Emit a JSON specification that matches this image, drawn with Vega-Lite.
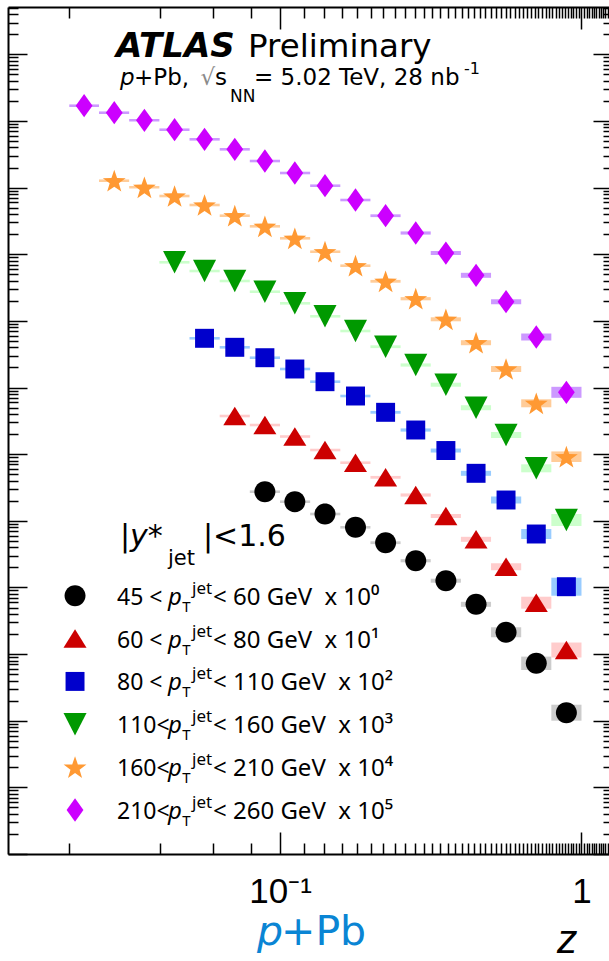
{
  "$schema": "https://vega.github.io/schema/vega-lite/v6.json",
  "width": 601,
  "height": 847,
  "autosize": "none",
  "padding": {"left": 8, "top": 7, "right": 0, "bottom": 107},
  "background": "white",
  "config": {"view": {"stroke": null}, "axis": {"grid": false}},
  "datasets": {
    "bins": [
      {"z": 0.0224, "z0": 0.02, "z1": 0.0251},
      {"z": 0.0282, "z0": 0.0251, "z1": 0.0316},
      {"z": 0.0355, "z0": 0.0316, "z1": 0.0398},
      {"z": 0.0447, "z0": 0.0398, "z1": 0.0501},
      {"z": 0.0562, "z0": 0.0501, "z1": 0.0631},
      {"z": 0.0708, "z0": 0.0631, "z1": 0.0794},
      {"z": 0.0891, "z0": 0.0794, "z1": 0.1},
      {"z": 0.112, "z0": 0.1, "z1": 0.1259},
      {"z": 0.141, "z0": 0.1259, "z1": 0.1585},
      {"z": 0.178, "z0": 0.1585, "z1": 0.1995},
      {"z": 0.224, "z0": 0.1995, "z1": 0.2512},
      {"z": 0.282, "z0": 0.2512, "z1": 0.3162},
      {"z": 0.355, "z0": 0.3162, "z1": 0.3981},
      {"z": 0.447, "z0": 0.3981, "z1": 0.5012},
      {"z": 0.562, "z0": 0.5012, "z1": 0.631},
      {"z": 0.708, "z0": 0.631, "z1": 0.7943},
      {"z": 0.891, "z0": 0.7943, "z1": 1.0}
    ],
    "series": [
      {"s": "45", "n": "45 <", "t": "< 60 GeV\u00a0\u00a0x 10\u2070"},
      {"s": "60", "n": "60 <", "t": "< 80 GeV\u00a0\u00a0x 10\u00b9"},
      {"s": "80", "n": "80 <", "t": "< 110 GeV\u00a0\u00a0x 10\u00b2"},
      {"s": "110", "n": "110<", "t": "< 160 GeV\u00a0\u00a0x 10\u00b3"},
      {"s": "160", "n": "160<", "t": "< 210 GeV\u00a0\u00a0x 10\u2074"},
      {"s": "210", "n": "210<", "t": "< 260 GeV\u00a0\u00a0x 10\u2075"}
    ],
    "pts": [
      {"s": "45", "z": 0.0891, "v": 27.33, "lo": 26.13, "hi": 28.58},
      {"s": "45", "z": 0.112, "v": 19.34, "lo": 18.49, "hi": 20.23},
      {"s": "45", "z": 0.141, "v": 12.65, "lo": 12.09, "hi": 13.23},
      {"s": "45", "z": 0.178, "v": 7.99, "lo": 7.64, "hi": 8.36},
      {"s": "45", "z": 0.224, "v": 4.69, "lo": 4.468, "hi": 4.923},
      {"s": "45", "z": 0.282, "v": 2.518, "lo": 2.383, "hi": 2.661},
      {"s": "45", "z": 0.355, "v": 1.262, "lo": 1.178, "hi": 1.352},
      {"s": "45", "z": 0.447, "v": 0.558, "lo": 0.5118, "hi": 0.6083},
      {"s": "45", "z": 0.562, "v": 0.2122, "lo": 0.1785, "hi": 0.2522},
      {"s": "45", "z": 0.708, "v": 0.0727, "lo": 0.05767, "hi": 0.09165},
      {"s": "45", "z": 0.891, "v": 0.01319, "lo": 0.01001, "hi": 0.01739},
      {"s": "60", "z": 0.0708, "v": 373.7, "lo": 357.3, "hi": 390.9},
      {"s": "60", "z": 0.0891, "v": 273.7, "lo": 261.7, "hi": 286.3},
      {"s": "60", "z": 0.112, "v": 184.0, "lo": 175.9, "hi": 192.4},
      {"s": "60", "z": 0.141, "v": 115.4, "lo": 110.3, "hi": 120.7},
      {"s": "60", "z": 0.178, "v": 74.4, "lo": 71.13, "hi": 77.82},
      {"s": "60", "z": 0.224, "v": 44.94, "lo": 42.82, "hi": 47.17},
      {"s": "60", "z": 0.282, "v": 24.38, "lo": 23.07, "hi": 25.76},
      {"s": "60", "z": 0.355, "v": 11.8, "lo": 11.01, "hi": 12.64},
      {"s": "60", "z": 0.447, "v": 5.277, "lo": 4.84, "hi": 5.753},
      {"s": "60", "z": 0.562, "v": 2.047, "lo": 1.814, "hi": 2.31},
      {"s": "60", "z": 0.708, "v": 0.59, "lo": 0.4796, "hi": 0.7259},
      {"s": "60", "z": 0.891, "v": 0.1151, "lo": 0.08885, "hi": 0.1491},
      {"s": "80", "z": 0.0562, "v": 5477, "lo": 5237, "hi": 5728},
      {"s": "80", "z": 0.0708, "v": 4013, "lo": 3837, "hi": 4197},
      {"s": "80", "z": 0.0891, "v": 2801, "lo": 2678, "hi": 2930},
      {"s": "80", "z": 0.112, "v": 1896, "lo": 1813, "hi": 1983},
      {"s": "80", "z": 0.141, "v": 1223, "lo": 1169, "hi": 1279},
      {"s": "80", "z": 0.178, "v": 745.8, "lo": 713.1, "hi": 780.0},
      {"s": "80", "z": 0.224, "v": 424.6, "lo": 404.5, "hi": 445.7},
      {"s": "80", "z": 0.282, "v": 230.4, "lo": 218.0, "hi": 243.5},
      {"s": "80", "z": 0.355, "v": 113.4, "lo": 105.8, "hi": 121.5},
      {"s": "80", "z": 0.447, "v": 51.6, "lo": 47.33, "hi": 56.25},
      {"s": "80", "z": 0.562, "v": 20.51, "lo": 18.17, "hi": 23.15},
      {"s": "80", "z": 0.708, "v": 6.336, "lo": 5.331, "hi": 7.53},
      {"s": "80", "z": 0.891, "v": 1.0255, "lo": 0.7512, "hi": 1.4},
      {"s": "110", "z": 0.0447, "v": 75680, "lo": 72360, "hi": 79150},
      {"s": "110", "z": 0.0562, "v": 56020, "lo": 53560, "hi": 58590},
      {"s": "110", "z": 0.0708, "v": 39670, "lo": 37930, "hi": 41490},
      {"s": "110", "z": 0.0891, "v": 27400, "lo": 26200, "hi": 28660},
      {"s": "110", "z": 0.112, "v": 18350, "lo": 17540, "hi": 19190},
      {"s": "110", "z": 0.141, "v": 11710, "lo": 11200, "hi": 12250},
      {"s": "110", "z": 0.178, "v": 7047, "lo": 6738, "hi": 7370},
      {"s": "110", "z": 0.224, "v": 4097, "lo": 3903, "hi": 4300},
      {"s": "110", "z": 0.282, "v": 2177, "lo": 2060, "hi": 2301},
      {"s": "110", "z": 0.355, "v": 1102, "lo": 1028, "hi": 1181},
      {"s": "110", "z": 0.447, "v": 497.7, "lo": 456.5, "hi": 542.6},
      {"s": "110", "z": 0.562, "v": 193.8, "lo": 174.7, "hi": 215.0},
      {"s": "110", "z": 0.708, "v": 61.33, "lo": 53.41, "hi": 70.42},
      {"s": "110", "z": 0.891, "v": 10.28, "lo": 8.356, "hi": 12.65},
      {"s": "160", "z": 0.0282, "v": 1269000, "lo": 1213000, "hi": 1327000},
      {"s": "160", "z": 0.0355, "v": 1010000, "lo": 965700, "hi": 1056000},
      {"s": "160", "z": 0.0447, "v": 747800, "lo": 715000, "hi": 782100},
      {"s": "160", "z": 0.0562, "v": 548200, "lo": 524100, "hi": 573400},
      {"s": "160", "z": 0.0708, "v": 378600, "lo": 362000, "hi": 396000},
      {"s": "160", "z": 0.0891, "v": 262500, "lo": 251000, "hi": 274500},
      {"s": "160", "z": 0.112, "v": 173400, "lo": 165800, "hi": 181400},
      {"s": "160", "z": 0.141, "v": 109100, "lo": 104300, "hi": 114100},
      {"s": "160", "z": 0.178, "v": 67290, "lo": 64340, "hi": 70380},
      {"s": "160", "z": 0.224, "v": 39250, "lo": 37400, "hi": 41200},
      {"s": "160", "z": 0.282, "v": 21510, "lo": 20350, "hi": 22730},
      {"s": "160", "z": 0.355, "v": 10560, "lo": 9855, "hi": 11320},
      {"s": "160", "z": 0.447, "v": 4703, "lo": 4314, "hi": 5127},
      {"s": "160", "z": 0.562, "v": 1896, "lo": 1709, "hi": 2103},
      {"s": "160", "z": 0.708, "v": 579.7, "lo": 504.9, "hi": 665.6},
      {"s": "160", "z": 0.891, "v": 91.5, "lo": 76.19, "hi": 109.9},
      {"s": "210", "z": 0.0224, "v": 16940000, "lo": 16200000, "hi": 17720000},
      {"s": "210", "z": 0.0282, "v": 13300000, "lo": 12720000, "hi": 13910000},
      {"s": "210", "z": 0.0355, "v": 10230000, "lo": 9781000, "hi": 10700000},
      {"s": "210", "z": 0.0447, "v": 7390000, "lo": 7066000, "hi": 7729000},
      {"s": "210", "z": 0.0562, "v": 5305000, "lo": 5072000, "hi": 5549000},
      {"s": "210", "z": 0.0708, "v": 3754000, "lo": 3589000, "hi": 3926000},
      {"s": "210", "z": 0.0891, "v": 2506000, "lo": 2396000, "hi": 2621000},
      {"s": "210", "z": 0.112, "v": 1656000, "lo": 1583000, "hi": 1732000},
      {"s": "210", "z": 0.141, "v": 1068000, "lo": 1021000, "hi": 1117000},
      {"s": "210", "z": 0.178, "v": 651300, "lo": 622700, "hi": 681200},
      {"s": "210", "z": 0.224, "v": 378600, "lo": 360700, "hi": 397400},
      {"s": "210", "z": 0.282, "v": 208300, "lo": 197100, "hi": 220100},
      {"s": "210", "z": 0.355, "v": 104300, "lo": 97340, "hi": 111800},
      {"s": "210", "z": 0.447, "v": 48300, "lo": 44300, "hi": 52660},
      {"s": "210", "z": 0.562, "v": 19400, "lo": 17800, "hi": 21150},
      {"s": "210", "z": 0.708, "v": 5728, "lo": 5076, "hi": 6464},
      {"s": "210", "z": 0.891, "v": 847.6, "lo": 700.8, "hi": 1025}
    ]
  },
  "layer": [
    {
      "layer": [
        {
          "data": {"name": "pts"},
          "transform": [{"lookup": "z", "from": {"data": {"name": "bins"}, "key": "z", "fields": ["z0", "z1"]}}],
          "mark": {"type": "rect", "strokeWidth": 0},
          "encoding": {
            "x": {"field": "z0", "type": "quantitative", "title": null,
              "scale": {"type": "log", "domain": [0.012526, 1.2338], "nice": false},
              "axis": {"orient": "bottom", "title": null, "tickCount": 50, "grid": false,
                "domainColor": "black", "domainWidth": 2, "tickColor": "black", "tickWidth": 1.5,
                "tickSize": {"condition": {"test": "abs(log(datum.value)/LN10 - round(log(datum.value)/LN10)) < 0.001", "value": -22}, "value": -11},
                "labelExpr": "abs(datum.value - 0.1) < 1e-9 ? '10\u207b\u00b9' : (abs(datum.value - 1) < 1e-9 ? '1' : '')",
                "labelFont": "Liberation Sans", "labelFontSize": 35, "labelColor": "black",
                "labelPadding": 70, "labelBaseline": "alphabetic", "labelAlign": "center",
                "labelFlush": false, "labelOverlap": false, "labelBound": false}},
            "x2": {"field": "z1"},
            "y": {"field": "lo", "type": "quantitative", "title": null,
              "scale": {"type": "log", "domain": [0.0001, 513000000], "nice": false},
              "axis": {"orient": "left", "title": null, "labels": false, "tickCount": 200, "grid": false,
                "domainColor": "black", "domainWidth": 2, "tickColor": "black", "tickWidth": 1.5,
                "tickSize": {"condition": {"test": "abs(log(datum.value)/LN10 - round(log(datum.value)/LN10)) < 0.001", "value": -19}, "value": -10}}},
            "y2": {"field": "hi"},
            "fill": {"field": "s", "type": "nominal", "legend": null,
              "scale": {"domain": ["45", "60", "80", "110", "160", "210"], "range": ["#cccccc", "#ffcccc", "#99ccff", "#ccffcc", "#ffcc99", "#cc99ff"]}}
          }
        },
        {
          "data": {"name": "pts"},
          "mark": {"type": "point", "filled": true, "opacity": 1, "size": 576, "strokeWidth": 0},
          "encoding": {
            "x": {"field": "z", "type": "quantitative", "title": null},
            "y": {"field": "v", "type": "quantitative", "title": null},
            "shape": {"field": "s", "type": "nominal", "legend": null,
              "scale": {"domain": ["45", "60", "80", "110", "160", "210"], "range": [
                "M-0.875,0A0.875,0.875,0,1,0,0.875,0A0.875,0.875,0,1,0,-0.875,0Z",
                "M0,-0.77L0.96,0.77L-0.96,0.77Z",
                "M-0.79,-0.79L0.79,-0.79L0.79,0.79L-0.79,0.79Z",
                "M-0.96,-0.94L0.96,-0.94L0,0.94Z",
                "M0,-0.905L0.235,-0.229L0.951,-0.214L0.38,0.219L0.588,0.904L0,0.495L-0.588,0.904L-0.38,0.219L-0.951,-0.214L-0.235,-0.229Z",
                "M0,-0.97L0.7,0L0,0.97L-0.7,0Z"]}},
            "color": {"field": "s", "type": "nominal", "legend": null,
              "scale": {"domain": ["45", "60", "80", "110", "160", "210"], "range": ["#000000", "#cc0000", "#0000cc", "#009900", "#ff9933", "#cc00ff"]}}
          }
        },
        {"data": {"values": [{"t": "ATLAS"}]}, "mark": {"type": "text", "align": "left", "baseline": "alphabetic", "font": "DejaVu Sans", "fontSize": 34, "fontWeight": "bold", "fontStyle": "italic", "color": "black"},
          "encoding": {"x": {"datum": 0.02858}, "y": {"datum": 92100000}, "text": {"field": "t"}}},
        {"data": {"values": [{"t": "Preliminary"}]}, "mark": {"type": "text", "align": "left", "baseline": "alphabetic", "font": "DejaVu Sans", "fontSize": 32.5, "color": "black"},
          "encoding": {"x": {"datum": 0.07832}, "y": {"datum": 92100000}, "text": {"field": "t"}}},
        {"data": {"values": [{"t": "p"}]}, "mark": {"type": "text", "align": "left", "baseline": "alphabetic", "font": "DejaVu Sans", "fontSize": 23, "fontStyle": "italic", "color": "black"},
          "encoding": {"x": {"datum": 0.02946}, "y": {"datum": 34630000}, "text": {"field": "t"}}},
        {"data": {"values": [{"t": "+Pb,"}]}, "mark": {"type": "text", "align": "left", "baseline": "alphabetic", "font": "DejaVu Sans", "fontSize": 23, "color": "black"},
          "encoding": {"x": {"datum": 0.0328}, "y": {"datum": 34630000}, "text": {"field": "t"}}},
        {"data": {"values": [{"t": "\u221a"}]}, "mark": {"type": "text", "align": "left", "baseline": "alphabetic", "font": "DejaVu Sans", "fontSize": 23, "color": "#8a8a8a"},
          "encoding": {"x": {"datum": 0.0545}, "y": {"datum": 34630000}, "text": {"field": "t"}}},
        {"data": {"values": [{"t": "s"}]}, "mark": {"type": "text", "align": "left", "baseline": "alphabetic", "font": "DejaVu Sans", "fontSize": 23, "color": "black"},
          "encoding": {"x": {"datum": 0.06087}, "y": {"datum": 34630000}, "text": {"field": "t"}}},
        {"data": {"values": [{"t": "NN"}]}, "mark": {"type": "text", "align": "left", "baseline": "alphabetic", "font": "DejaVu Sans", "fontSize": 17, "color": "black"},
          "encoding": {"x": {"datum": 0.06828}, "y": {"datum": 19250000}, "text": {"field": "t"}}},
        {"data": {"values": [{"t": "= 5.02 TeV, 28 nb"}]}, "mark": {"type": "text", "align": "left", "baseline": "alphabetic", "font": "DejaVu Sans", "fontSize": 23, "color": "black"},
          "encoding": {"x": {"datum": 0.08197}, "y": {"datum": 34630000}, "text": {"field": "t"}}},
        {"data": {"values": [{"t": "-1"}]}, "mark": {"type": "text", "align": "left", "baseline": "alphabetic", "font": "DejaVu Sans", "fontSize": 16, "color": "black"},
          "encoding": {"x": {"datum": 0.4076}, "y": {"datum": 50640000}, "text": {"field": "t"}}},
        {"data": {"values": [{"t": "|"}]}, "mark": {"type": "text", "align": "left", "baseline": "alphabetic", "font": "DejaVu Sans", "fontSize": 30, "color": "black"},
          "encoding": {"x": {"datum": 0.02946}, "y": {"datum": 4.184}, "text": {"field": "t"}}},
        {"data": {"values": [{"t": "y*"}]}, "mark": {"type": "text", "align": "left", "baseline": "alphabetic", "font": "DejaVu Sans", "fontSize": 30, "fontStyle": "italic", "color": "black"},
          "encoding": {"x": {"datum": 0.0318}, "y": {"datum": 4.184}, "text": {"field": "t"}}},
        {"data": {"values": [{"t": "jet"}]}, "mark": {"type": "text", "align": "left", "baseline": "alphabetic", "font": "DejaVu Sans", "fontSize": 21, "color": "black"},
          "encoding": {"x": {"datum": 0.0425}, "y": {"datum": 2.171}, "text": {"field": "t"}}},
        {"data": {"values": [{"t": "|<1.6"}]}, "mark": {"type": "text", "align": "left", "baseline": "alphabetic", "font": "DejaVu Sans", "fontSize": 30, "color": "black"},
          "encoding": {"x": {"datum": 0.05553}, "y": {"datum": 4.184}, "text": {"field": "t"}}},
        {"data": {"values": [{"t": "p"}]}, "mark": {"type": "text", "align": "left", "baseline": "alphabetic", "font": "DejaVu Sans", "fontSize": 41, "fontStyle": "italic", "color": "#0a85d4"},
          "encoding": {"x": {"datum": 0.08388}, "y": {"datum": 0.000004307}, "text": {"field": "t"}}},
        {"data": {"values": [{"t": "+Pb"}]}, "mark": {"type": "text", "align": "left", "baseline": "alphabetic", "font": "DejaVu Sans", "fontSize": 41, "color": "#0a85d4"},
          "encoding": {"x": {"datum": 0.1008}, "y": {"datum": 0.000004307}, "text": {"field": "t"}}},
        {"data": {"values": [{"t": "z"}]}, "mark": {"type": "text", "align": "left", "baseline": "alphabetic", "font": "Liberation Sans", "fontSize": 41, "fontStyle": "italic", "color": "black"},
          "encoding": {"x": {"datum": 0.8293}, "y": {"datum": 0.000003268}, "text": {"field": "t"}}}
      ]
    },
    {
      "data": {"name": "series"},
      "encoding": {
        "y": {"field": "s", "type": "nominal", "title": null, "axis": null,
          "scale": {"type": "point", "domain": ["45", "60", "80", "110", "160", "210"], "range": [588.7, 803], "padding": 0}}
      },
      "layer": [
        {
          "mark": {"type": "point", "filled": true, "opacity": 1, "size": 576, "strokeWidth": 0},
          "encoding": {
            "x": {"datum": 0.0209, "type": "quantitative",
              "axis": {"orient": "top", "title": null, "labels": false, "tickCount": 50, "grid": false,
                "domainColor": "black", "domainWidth": 2, "tickColor": "black", "tickWidth": 1.5,
                "tickSize": {"condition": {"test": "abs(log(datum.value)/LN10 - round(log(datum.value)/LN10)) < 0.001", "value": -22}, "value": -11}}},
            "shape": {"field": "s", "type": "nominal", "legend": null,
              "scale": {"domain": ["45", "60", "80", "110", "160", "210"], "range": [
                "M-0.875,0A0.875,0.875,0,1,0,0.875,0A0.875,0.875,0,1,0,-0.875,0Z",
                "M0,-0.77L0.96,0.77L-0.96,0.77Z",
                "M-0.79,-0.79L0.79,-0.79L0.79,0.79L-0.79,0.79Z",
                "M-0.96,-0.94L0.96,-0.94L0,0.94Z",
                "M0,-0.905L0.235,-0.229L0.951,-0.214L0.38,0.219L0.588,0.904L0,0.495L-0.588,0.904L-0.38,0.219L-0.951,-0.214L-0.235,-0.229Z",
                "M0,-0.97L0.7,0L0,0.97L-0.7,0Z"]}},
            "color": {"field": "s", "type": "nominal", "legend": null,
              "scale": {"domain": ["45", "60", "80", "110", "160", "210"], "range": ["#000000", "#cc0000", "#0000cc", "#009900", "#ff9933", "#cc00ff"]}}
          }
        },
        {"mark": {"type": "text", "align": "left", "baseline": "alphabetic", "dy": 9, "font": "Noto Sans", "fontSize": 23, "color": "black"},
          "encoding": {"x": {"datum": 0.0288}, "text": {"field": "n"}}},
        {"mark": {"type": "text", "align": "left", "baseline": "alphabetic", "dy": 9, "font": "Noto Sans", "fontSize": 24, "fontStyle": "italic", "color": "black"},
          "encoding": {"x": {"datum": 0.0425}, "text": {"value": "p"}}},
        {"mark": {"type": "text", "align": "left", "baseline": "alphabetic", "dy": 16, "font": "Noto Sans", "fontSize": 15, "color": "black"},
          "encoding": {"x": {"datum": 0.0474}, "text": {"value": "T"}}},
        {"mark": {"type": "text", "align": "left", "baseline": "alphabetic", "dy": -2, "font": "Noto Sans", "fontSize": 17, "color": "black"},
          "encoding": {"x": {"datum": 0.0511}, "text": {"value": "jet"}}},
        {"mark": {"type": "text", "align": "left", "baseline": "alphabetic", "dy": 9, "font": "Noto Sans", "fontSize": 24, "color": "black"},
          "encoding": {"x": {"datum": 0.05995}, "text": {"field": "t"}}}
      ]
    },
    {
      "data": {"values": [{"t": ""}]},
      "mark": {"type": "text"},
      "encoding": {
        "y": {"datum": 1, "type": "quantitative",
          "scale": {"type": "log", "domain": [0.0001, 513000000], "nice": false},
          "axis": {"orient": "right", "title": null, "labels": false, "domain": false, "tickCount": 200, "grid": false,
            "tickColor": "black", "tickWidth": 1.5,
            "tickSize": {"condition": {"test": "abs(log(datum.value)/LN10 - round(log(datum.value)/LN10)) < 0.001", "value": -16}, "value": -6}}},
        "text": {"field": "t"}
      }
    }
  ],
  "resolve": {"scale": {"y": "independent"}, "axis": {"x": "independent", "y": "independent"}}
}
